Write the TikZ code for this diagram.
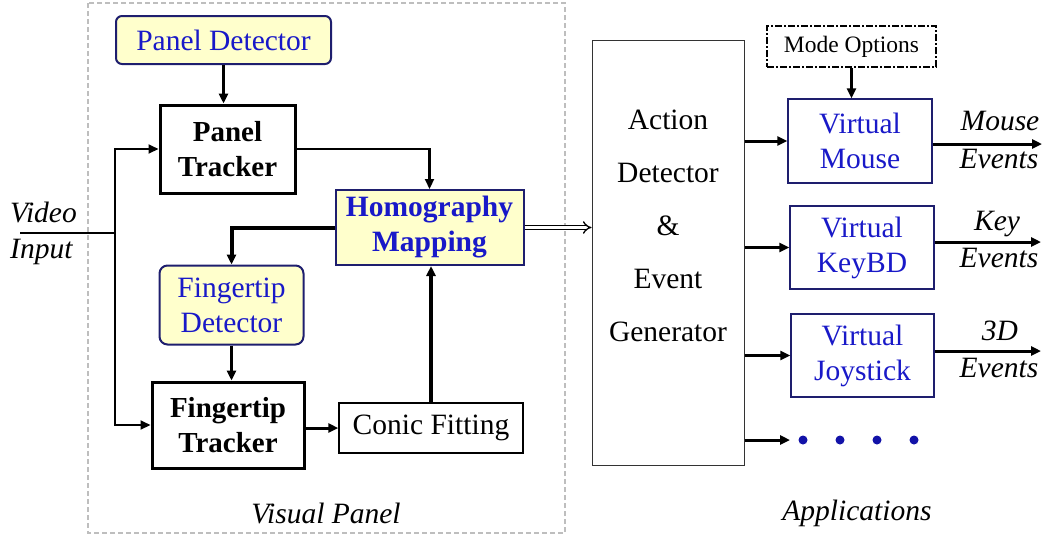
\documentclass[tikz,border=0pt]{standalone}
\usepackage{fontspec}
\setmainfont{Liberation Serif}
\usetikzlibrary{arrows.meta,positioning,calc}
\definecolor{txtblue}{RGB}{25,25,200}
\definecolor{navy}{RGB}{30,30,110}
\definecolor{paleyellow}{RGB}{255,255,204}
\definecolor{dashgray}{RGB}{190,190,190}
\tikzset{
  big/.style={font=\fontsize{29.5}{35}\selectfont},
  ybox/.style={draw=navy, line width=2pt, fill=paleyellow, text=txtblue, big, align=center, inner sep=0pt},
  bbox/.style={draw=black, line width=3pt, font=\fontsize{29}{35}\selectfont\bfseries, align=center, inner sep=0pt},
  appbox/.style={draw=navy, line width=1.2pt, text=txtblue, big, align=center, inner sep=0pt},
  ital/.style={font=\fontsize{29.5}{35}\selectfont\itshape, inner sep=0pt},
  tip/.style={-{Triangle[length=10pt,width=9pt]}},
  conn/.style={tip, line width=2.5pt},
}
\begin{document}
\begin{tikzpicture}[x=1pt,y=-1pt]
\useasboundingbox (0,0) rectangle (1044,539);
% visual panel frame
\draw[dashgray, line width=1.5pt, dash pattern=on 5pt off 3pt] (88,3) rectangle (565,533);
\node[ital, anchor=base] (vp) at (326,523) {Visual Panel};

% left group
\node[ybox, rounded corners=6pt, minimum width=215, minimum height=48] (pd) at (223.5,40) {Panel Detector};
\node[bbox, minimum width=135, minimum height=88] (pt) at (227.5,149) {Panel\\Tracker};
\node[ybox, minimum width=188, minimum height=75, font=\fontsize{29.5}{35}\selectfont\bfseries] (hm) at (429.5,227.5) {Homography\\Mapping};
\node[ybox, rounded corners=8pt, minimum width=144, minimum height=79] (fd) at (231.5,305) {Fingertip\\Detector};
\node[bbox, minimum width=152, minimum height=86] (ft) at (228,425) {Fingertip\\Tracker};
\node[draw=black, line width=1.5pt, big, inner sep=0pt, minimum width=184, minimum height=50] (cf) at (431,428) {Conic Fitting};

\draw[conn, line width=3pt] (pd.south) -- (pd.south |- pt.north);
\draw[conn, line width=2.2pt] (pt.east) -| (hm.north);
\draw[conn, line width=4pt] (hm.west) -| (fd.north);
\draw[conn, line width=3pt] (fd.south) -- (fd.south |- ft.north);
\draw[conn, line width=3pt] (ft.east |- cf.west) -- (cf.west);
\draw[conn, line width=4pt] (cf.north) -- (cf.north |- hm.south);

% video input
\coordinate (vin) at (20,233);
\coordinate (vj) at (115,233);
\node[ital, anchor=base west] (vtxt) at (10,222) {Video};
\node[ital, anchor=base west] (itxt) at (10,258) {Input};
\draw[line width=1.5pt] (vin) -- (vj);
\draw[tip, line width=2pt] (vj) |- (pt.west);
\draw[tip, line width=2pt] (vj) |- (ft.west);

% action detector
\node[draw=black!80, line width=1pt, minimum width=152, minimum height=425, inner sep=0pt] (ad) at (668,252.5) {};
\node[align=center, font=\fontsize{29.5}{53}\selectfont, inner sep=0pt] (adtxt) at (668,226) {Action\\Detector\\\&\\Event\\Generator};
\draw[line width=1.3pt, double, double distance=3pt, -{Implies[length=9pt]}] (hm.east) -- (ad.west |- hm.east);

% applications
\node[draw=black, line width=1.8pt, dash pattern=on 7pt off 2pt on 2pt off 2pt, font=\fontsize{23.5}{28}\selectfont, inner sep=0pt, minimum width=169, minimum height=41] (mo) at (851.5,46.5) {Mode Options};
\node[appbox, minimum width=144, minimum height=84] (vm) at (860,141) {Virtual\\Mouse};
\node[appbox, minimum width=144, minimum height=83] (kb) at (862,247.5) {Virtual\\KeyBD};
\node[appbox, minimum width=143, minimum height=83] (js) at (862.5,355.5) {Virtual\\Joystick};
\draw[conn, line width=3pt] (mo.south) -- (mo.south |- vm.north);
\draw[conn, line width=3pt] (ad.east |- vm.west) -- (vm.west);
\draw[conn, line width=3pt] (ad.east |- kb.west) -- (kb.west);
\draw[conn, line width=3pt] (ad.east |- js.west) -- (js.west);
\coordinate (dots) at (790,440);
\draw[conn, line width=3pt] (ad.east |- dots) -- (dots);
\foreach \x in {803,840,877,914} \fill[navy!60!blue] (\x,440) circle (4.5);

\coordinate (mout) at (1042,144);
\coordinate (kout) at (1041,242);
\coordinate (jout) at (1041,351);
\draw[conn, line width=3pt] (vm.east |- mout) -- (mout);
\draw[conn, line width=3pt] (kb.east |- kout) -- (kout);
\draw[conn, line width=3pt] (js.east |- jout) -- (jout);
\node[ital, anchor=base] (ml) at (1000,130) {Mouse};
\node[ital, anchor=base] (me) at (999,168) {Events};
\node[ital, anchor=base] (kl) at (997,230) {Key};
\node[ital, anchor=base] (ke) at (999,267) {Events};
\node[ital, anchor=base] (jl) at (1000,340) {3D};
\node[ital, anchor=base] (je) at (999,377) {Events};
\node[ital, anchor=base] (apps) at (857,520) {Applications};
\end{tikzpicture}
\end{document}
